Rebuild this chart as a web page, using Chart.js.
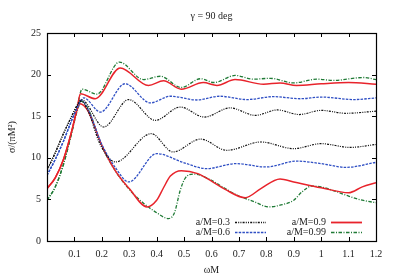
<!DOCTYPE html>
<html>
<head>
<meta charset="utf-8">
<script src="https://cdn.jsdelivr.net/npm/chart.js@4"></script>
<style>
  html, body { margin: 0; padding: 0; background: #fff; }
  #wrap { width: 395px; height: 276px; }
</style>
</head>
<body>
<div id="wrap"><canvas id="sigma"></canvas></div>
<script>
const titleText = 'γ = 90 deg';
const spins = ['a/M=0.3', 'a/M=0.6', 'a/M=0.9', 'a/M=0.99'];
const xTicks = [0.1, 0.2, 0.3, 0.4, 0.5, 0.6, 0.7, 0.8, 0.9, 1, 1.1, 1.2];
const yTicks = [0, 5, 10, 15, 20, 25];

// a/M = 0.3
const a03UpX = [0, 0.03, 0.06, 0.09, 0.11, 0.125, 0.207, 0.298, 0.395, 0.486, 0.574, 0.668, 0.76, 0.84, 0.92, 1.0, 1.09, 1.2];
const a03UpY = [8.5, 10.6, 12.9, 15.0, 16.3, 17.0, 13.7, 17.0, 14.5, 16.1, 14.9, 16.0, 15.1, 15.75, 15.2, 15.7, 15.35, 15.6];
const a03LoX = [0, 0.03, 0.06, 0.09, 0.11, 0.125, 0.15, 0.194, 0.25, 0.38, 0.46, 0.56, 0.656, 0.78, 0.9, 1.0, 1.105, 1.2];
const a03LoY = [8.5, 10.6, 12.9, 15.0, 16.3, 16.8, 15.6, 11.6, 9.5, 12.9, 10.7, 12.25, 10.9, 11.9, 11.1, 11.7, 11.25, 11.6];

// a/M = 0.6
const a06UpX = [0, 0.03, 0.06, 0.09, 0.11, 0.134, 0.195, 0.285, 0.377, 0.45, 0.547, 0.63, 0.73, 0.826, 0.923, 1.0, 1.12, 1.2];
const a06UpY = [7.9, 9.8, 12.0, 14.5, 16.0, 17.2, 15.5, 18.9, 16.6, 17.4, 16.95, 17.4, 17.0, 17.35, 17.1, 17.3, 17.0, 17.2];
const a06LoX = [0, 0.03, 0.06, 0.09, 0.11, 0.125, 0.15, 0.2, 0.25, 0.298, 0.4, 0.5, 0.583, 0.69, 0.8, 0.91, 1.0, 1.09, 1.2];
const a06LoY = [7.9, 9.8, 12.0, 14.5, 16.0, 16.9, 15.8, 11.6, 8.8, 7.1, 10.5, 9.4, 8.7, 9.3, 8.9, 9.6, 9.3, 8.85, 9.45];

// a/M = 0.9
const a09UpX = [0, 0.03, 0.06, 0.09, 0.11, 0.122, 0.176, 0.267, 0.37, 0.425, 0.49, 0.57, 0.62, 0.686, 0.79, 0.85, 0.91, 1.0, 1.1, 1.2];
const a09UpY = [6.3, 7.6, 9.8, 13.2, 16.0, 17.7, 17.1, 20.8, 18.7, 19.25, 18.25, 19.05, 18.7, 19.4, 18.85, 19.0, 18.7, 18.9, 19.05, 18.85];
const a09LoX = [0, 0.03, 0.06, 0.09, 0.11, 0.12, 0.15, 0.2, 0.25, 0.3, 0.365, 0.4, 0.425, 0.45, 0.49, 0.55, 0.6, 0.65, 0.723, 0.78, 0.85, 0.9, 1.0, 1.1, 1.15, 1.2];
const a09LoY = [6.3, 7.6, 9.8, 13.2, 15.8, 16.5, 15.6, 11.5, 8.4, 6.3, 4.1, 4.9, 6.4, 7.8, 8.45, 8.1, 7.2, 6.2, 5.2, 6.3, 7.45, 7.1, 6.4, 5.8, 6.5, 7.0];

// a/M = 0.99
const a099UpX = [0, 0.03, 0.06, 0.09, 0.11, 0.128, 0.182, 0.264, 0.352, 0.413, 0.49, 0.56, 0.61, 0.686, 0.753, 0.814, 0.9, 0.984, 1.045, 1.155, 1.2];
const a099UpY = [4.9, 6.5, 9.2, 13.0, 16.0, 18.25, 17.65, 21.5, 19.4, 19.8, 18.45, 19.5, 19.05, 19.9, 19.45, 19.55, 19.0, 19.45, 19.3, 19.65, 19.4];
const a099LoX = [0, 0.03, 0.06, 0.09, 0.11, 0.125, 0.15, 0.2, 0.25, 0.3, 0.35, 0.4, 0.443, 0.465, 0.486, 0.505, 0.535, 0.6, 0.65, 0.7, 0.75, 0.81, 0.85, 0.9, 0.93, 0.966, 1.0, 1.05, 1.1, 1.15, 1.2];
const a099LoY = [4.9, 6.5, 9.2, 13.0, 15.6, 16.8, 15.9, 11.4, 8.4, 6.2, 4.6, 3.4, 2.7, 3.4, 6.1, 7.6, 8.05, 7.3, 6.3, 5.4, 4.8, 4.1, 4.3, 4.9, 5.9, 6.6, 6.5, 6.0, 5.4, 4.9, 4.6];

const colors = ['#111111', '#2f4fc4', '#e8232b', '#1f7a35'];
const dashes = [[2, 1.2, 1, 1.2, 1, 1.2], [2.5, 1.2], [], [3.5, 1.5, 1, 1.5]];
const widths = [1.2, 1.3, 1.5, 1.3];

function pts(xs, ys) {
  return xs.map((x, i) => ({ x: x, y: ys[i] }));
}

const curves = [
  [a03UpX, a03UpY, 0], [a03LoX, a03LoY, 0],
  [a06UpX, a06UpY, 1], [a06LoX, a06LoY, 1],
  [a09UpX, a09UpY, 2], [a09LoX, a09LoY, 2],
  [a099UpX, a099UpY, 3], [a099LoX, a099LoY, 3]
];

const datasets = curves.map(c => ({
  label: spins[c[2]],
  data: pts(c[0], c[1]),
  borderColor: colors[c[2]],
  borderDash: dashes[c[2]],
  borderWidth: widths[c[2]],
  pointRadius: 0,
  fill: false,
  cubicInterpolationMode: 'monotone'
}));

const serif = '"Liberation Serif", "DejaVu Serif", serif';

// gnuplot-like decorations: title, inward ticks, legend
const gnuplotLook = {
  id: 'gnuplotLook',
  afterDraw(chart) {
    const ctx = chart.ctx;
    const a = chart.chartArea;
    const xs = chart.scales.x, ys = chart.scales.y;
    ctx.save();
    ctx.strokeStyle = '#000';
    ctx.lineWidth = 1;
    ctx.setLineDash([]);
    ctx.beginPath();
    xTicks.forEach(v => {
      const px = Math.round(xs.getPixelForValue(v)) + 0.5;
      ctx.moveTo(px, a.bottom); ctx.lineTo(px, a.bottom - 4);
      ctx.moveTo(px, a.top); ctx.lineTo(px, a.top + 4);
    });
    yTicks.forEach(v => {
      const py = Math.round(ys.getPixelForValue(v)) + 0.5;
      ctx.moveTo(a.left, py); ctx.lineTo(a.left + 4, py);
      ctx.moveTo(a.right, py); ctx.lineTo(a.right - 4, py);
    });
    ctx.stroke();
    ctx.lineWidth = 1.2;
    ctx.strokeRect(Math.round(a.left) + 0.5, Math.round(a.top) + 0.5,
      Math.round(a.right - a.left), Math.round(a.bottom - a.top));

    ctx.fillStyle = '#222';
    ctx.font = '10px ' + serif;
    ctx.textAlign = 'center';
    ctx.textBaseline = 'middle';
    ctx.fillText(titleText, (a.left + a.right) / 2, 16);

    // legend: text right-aligned, then line sample
    const slots = [[230, 222], [230, 232], [326, 222], [326, 232]];
    ctx.textAlign = 'right';
    spins.forEach((s, i) => {
      const [tx, ty] = slots[i];
      ctx.fillStyle = '#222';
      ctx.fillText(s, tx, ty);
      ctx.beginPath();
      ctx.strokeStyle = colors[i];
      ctx.lineWidth = widths[i] + 0.3;
      ctx.setLineDash(dashes[i]);
      ctx.moveTo(tx + 5, ty + 0.5);
      ctx.lineTo(tx + 36, ty + 0.5);
      ctx.stroke();
    });
    ctx.restore();
  }
};

new Chart(document.getElementById('sigma').getContext('2d'), {
  type: 'line',
  data: { datasets: datasets },
  options: {
    responsive: true,
    maintainAspectRatio: false,
    animation: false,
    layout: { padding: { top: 33, right: 19, left: 0, bottom: 0 } },
    plugins: {
      legend: { display: false },
      tooltip: { enabled: false },
      title: { display: false }
    },
    scales: {
      x: {
        type: 'linear',
        min: 0,
        max: 1.2,
        afterFit: s => { s.height = 35; },
        afterBuildTicks: s => { s.ticks = [0].concat(xTicks).map(v => ({ value: v })); },
        grid: { display: false, drawTicks: false },
        border: { display: false },
        ticks: {
          padding: 7,
          color: '#222',
          font: { family: serif, size: 10 },
          maxRotation: 0,
          autoSkip: false,
          callback: v => v === 0 ? '' : String(+v.toFixed(1))
        },
        title: {
          display: true,
          text: 'ωM',
          color: '#222',
          font: { family: serif, size: 10 },
          padding: { top: 2, bottom: 0 }
        }
      },
      y: {
        type: 'linear',
        min: 0,
        max: 25,
        afterFit: s => { s.width = 47; },
        afterBuildTicks: s => { s.ticks = yTicks.map(v => ({ value: v })); },
        grid: { display: false, drawTicks: false },
        border: { display: false },
        ticks: {
          padding: 6,
          color: '#222',
          font: { family: serif, size: 10 }
        },
        title: {
          display: true,
          text: 'σ/(πM²)',
          color: '#222',
          font: { family: serif, size: 10 },
          padding: { top: 6, bottom: 2 }
        }
      }
    }
  },
  plugins: [gnuplotLook]
});
</script>
</body>
</html>
